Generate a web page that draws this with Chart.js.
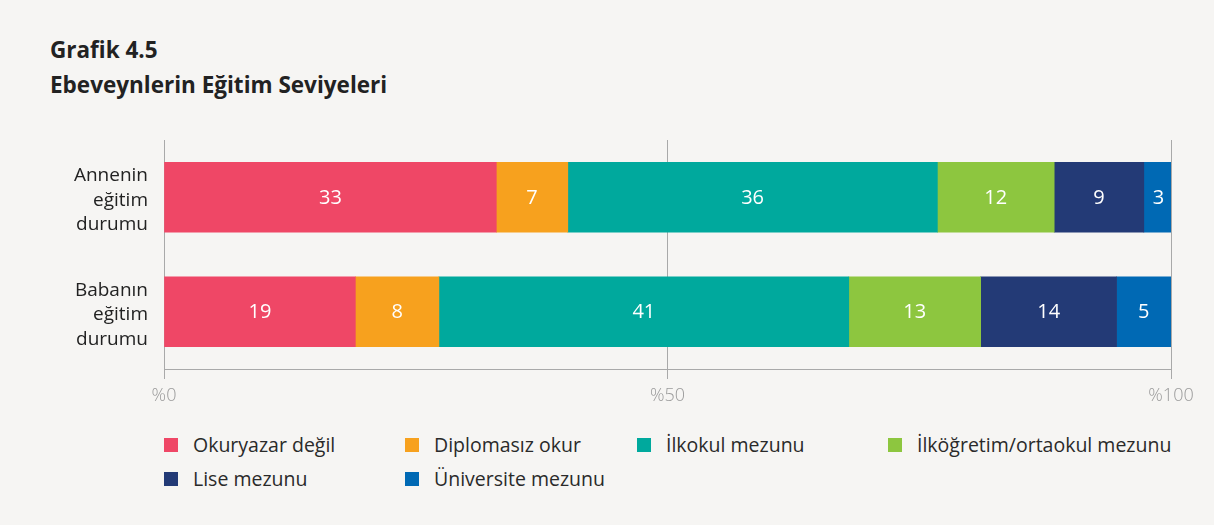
<!DOCTYPE html>
<html lang="tr">
<head>
    <meta charset="UTF-8">
    <title>Grafik 4.5</title>
    <script src="https://cdn.jsdelivr.net/npm/chart.js"></script>
    <style>
        html, body {
            margin: 0;
            padding: 0;
            background-color: #f6f5f3;
            font-family: 'Open Sans', sans-serif;
        }
        .page { position: relative; width: 1214px; height: 525px; overflow: hidden; }
        .title {
            position: absolute; left: 50px; top: 32px;
            font-size: 22.5px; font-weight: 700; line-height: 35px; color: #222;
        }
        .chart-box { position: absolute; left: 0; top: 120px; width: 1214px; height: 300px; }
        .legend { position: absolute; left: 0; top: 0; width: 1214px; }
        .legend-item {
            position: absolute; display: flex; align-items: center;
            font-size: 19.5px; color: #2a2a2a; white-space: nowrap;
        }
        .legend-item span.box { width: 14px; height: 14px; margin-right: 15px; display: inline-block; }
    </style>
</head>
<body>
<div class="page">
    <div class="title">Grafik 4.5<br>Ebeveynlerin Eğitim Seviyeleri</div>
    <div class="chart-box"><canvas id="chart"></canvas></div>
    <div class="legend" id="legend"></div>
</div>

<script>
    // Kategoriler ve seriler
    const categories = [['Annenin', 'eğitim', 'durumu'], ['Babanın', 'eğitim', 'durumu']];
    const seriesNames = ['Okuryazar değil', 'Diplomasız okur', 'İlkokul mezunu', 'İlköğretim/ortaokul mezunu', 'Lise mezunu', 'Üniversite mezunu'];
    const seriesColors = ['#ef4766', '#f7a11e', '#00a99d', '#8dc63f', '#233a76', '#0069b4'];

    // bar lengths (%)
    const anneValues = [33.0, 7.1, 36.7, 11.6, 8.9, 2.9];
    const babaValues = [19.0, 8.3, 40.7, 13.1, 13.5, 5.4];
    // printed numbers
    const anneLabels = ['33', '7', '36', '12', '9', '3'];
    const babaLabels = ['19', '8', '41', '13', '14', '5'];

    const xTicks = [0, 50, 100];

    const datasets = seriesNames.map((name, i) => ({
        label: name,
        data: [anneValues[i], babaValues[i]],
        printed: [anneLabels[i], babaLabels[i]],
        backgroundColor: seriesColors[i],
        borderWidth: 0,
        barThickness: 70
    }));

    const valueLabels = {
        id: 'valueLabels',
        afterDatasetsDraw(chart) {
            const ctx = chart.ctx;
            ctx.save();
            ctx.fillStyle = '#ffffff';
            ctx.font = '20px "Open Sans", sans-serif';
            ctx.textAlign = 'center';
            ctx.textBaseline = 'middle';
            chart.data.datasets.forEach((ds, i) => {
                chart.getDatasetMeta(i).data.forEach((bar, j) => {
                    const cx = (bar.x + bar.base) / 2;
                    ctx.fillText(ds.printed[j], cx, bar.y + 1);
                });
            });
            ctx.restore();
        }
    };

    new Chart(document.getElementById('chart'), {
        type: 'bar',
        data: { labels: categories, datasets: datasets },
        options: {
            indexAxis: 'y',
            animation: false,
            responsive: true,
            maintainAspectRatio: false,
            layout: { padding: { top: 20, right: 43, bottom: 10, left: 0 } },
            plugins: {
                legend: { display: false },
                tooltip: { enabled: false }
            },
            scales: {
                x: {
                    stacked: true,
                    min: 0,
                    max: 100,
                    afterBuildTicks: (scale) => { scale.ticks = xTicks.map(v => ({ value: v })); },
                    grid: { color: '#a9a9a9', lineWidth: 1, tickLength: 10 },
                    border: { display: true, color: '#a9a9a9' },
                    ticks: {
                        color: '#9a9a9a',
                        font: { family: 'Open Sans', size: 18, weight: 300 },
                        padding: 6,
                        maxRotation: 0,
                        callback: v => '%' + v
                    },
                    afterFit: (scale) => { scale.height = 41; }
                },
                y: {
                    stacked: true,
                    grid: { display: false },
                    border: { display: true, color: '#a9a9a9' },
                    ticks: {
                        color: '#222',
                        font: { family: 'Open Sans', size: 19, lineHeight: 1.29 },
                        padding: 8,
                        labelOffset: 3
                    },
                    afterFit: (scale) => {
                        scale.width = 164;
                        scale.paddingTop = 0;
                        scale.paddingBottom = 0;
                    }
                }
            }
        },
        plugins: [valueLabels]
    });

    // legend
    const legendPos = [[164, 445], [405, 445], [637, 445], [888, 445], [164, 479], [405, 479]];
    const legendEl = document.getElementById('legend');
    seriesNames.forEach((name, i) => {
        const item = document.createElement('div');
        item.className = 'legend-item';
        item.style.left = legendPos[i][0] + 'px';
        item.style.top = (legendPos[i][1] - 14) + 'px';
        item.innerHTML = '<span class="box" style="background:' + seriesColors[i] + '"></span>' + name;
        legendEl.appendChild(item);
    });
</script>
</body>
</html>
